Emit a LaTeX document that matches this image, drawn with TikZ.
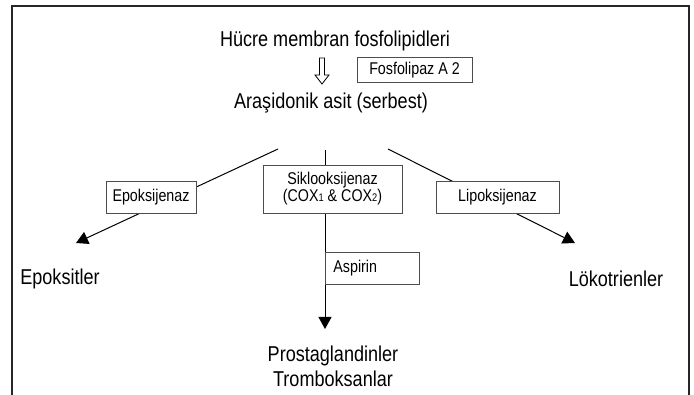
\documentclass[tikz,border=0pt]{standalone}
\usepackage{fontspec}
\setmainfont{Liberation Sans}[FakeStretch=0.84]
\usetikzlibrary{arrows.meta,positioning}
\definecolor{FrameGray}{HTML}{262626}
\definecolor{BoxGray}{HTML}{4D4D4D}

\begin{document}
\begin{tikzpicture}[
  x=1pt,y=-1pt,
  label/.style={inner sep=0pt,font=\fontsize{21.5}{23}\selectfont},
  enzyme/.style={draw=BoxGray,line width=0.8pt,fill=white,inner sep=0pt,align=center,font=\fontsize{17}{17}\selectfont},
  flow/.style={line width=1pt,-{Triangle[length=12pt,width=13pt]}},
]
\useasboundingbox (0,0) rectangle (694,395);
\draw[FrameGray,line width=1.3pt] (12,395) -- (12,6) -- (689,6) -- (689,395);

% substances
\node[label] (hucre) at (335,41) {Hücre membran fosfolipidleri};
\node[label] (aras) at (331,103) {Araşidonik asit (serbest)};
\node[label] (epok) at (60,279) {Epoksitler};
\node[label] (loko) at (616,279) {Lökotrienler};
\node[label] (prost) at (333,356) {Prostaglandinler};
\node[label,below=5pt of prost] (tromb) {Tromboksanlar};

% hollow arrow
\coordinate (ha) at (322,58);
\draw[line width=0.8pt] (ha) ++(-2.5,0) -- ++(0,17) -- ++(-4.5,0) -- (322,84) -- (329,75) -- ++(-4.5,0) -- ++(0,-17) -- cycle;

% branches
\coordinate (ls) at (278,149);
\coordinate (lt) at (76,243);
\coordinate (ms) at (325,150);
\coordinate (mt) at (325,329);
\coordinate (rs) at (388,149);
\coordinate (rt) at (575,243);
\draw[flow] (ls) -- (lt);
\draw[flow] (ms) -- (mt);
\draw[flow] (rs) -- (rt);

% enzymes
\node[enzyme,minimum width=115pt,minimum height=25pt] (fosf) at (414.5,70) {Fosfolipaz A 2};
\node[enzyme,minimum width=90pt,minimum height=32pt] (epoks) at (151,197) {Epoksijenaz};
\node[enzyme,minimum width=139pt,minimum height=48pt] (cox) at (332.5,189)
  {Siklooksijenaz\\(COX{\fontsize{11}{11}\selectfont 1} \& COX{\fontsize{11}{11}\selectfont 2})};
\node[enzyme,minimum width=123pt,minimum height=32pt] (lipo) at (497.5,197) {Lipoksijenaz};
\node[enzyme,anchor=west,text width=78pt,align=left,inner xsep=8pt,minimum height=32pt] (asp) at (325,268) {Aspirin};
\end{tikzpicture}
\end{document}
